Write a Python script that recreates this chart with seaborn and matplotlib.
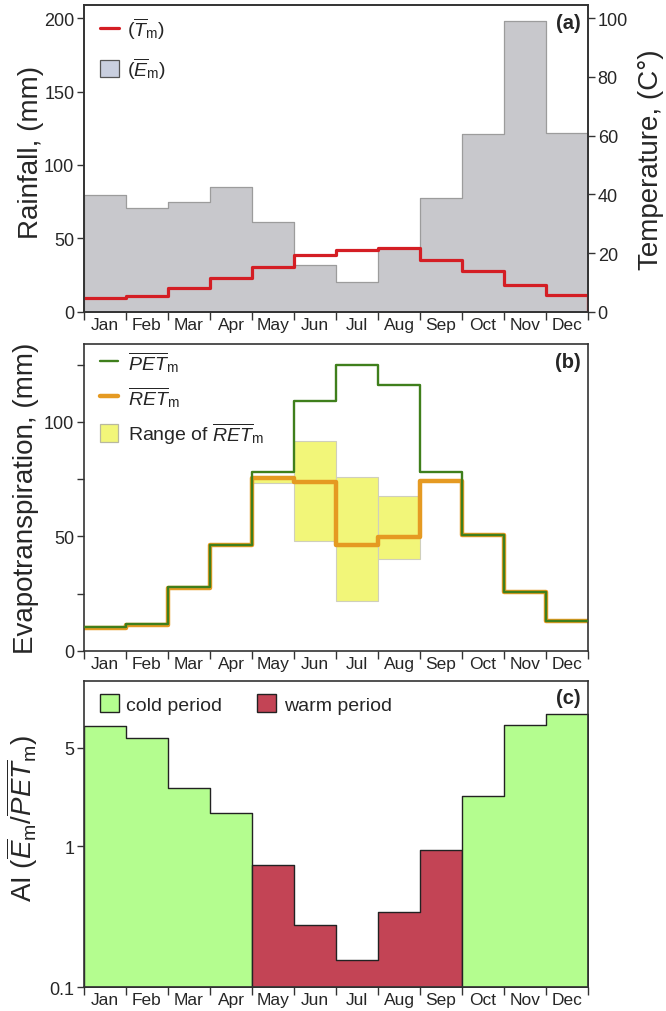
import numpy as np
import pandas as pd
import matplotlib
matplotlib.use("Agg")
import matplotlib.pyplot as plt
import seaborn as sns
from matplotlib.patches import Patch
from matplotlib.lines import Line2D

# ---------------- data ----------------
months = ['Jan', 'Feb', 'Mar', 'Apr', 'May', 'Jun', 'Jul', 'Aug', 'Sep', 'Oct', 'Nov', 'Dec']
rainfall = [79.5, 70.5, 74.5, 84.8, 60.9, 31.5, 20.5, 43.2, 77.3, 121.0, 198.0, 122.0]
temperature = [4.8, 5.2, 8.2, 11.4, 15.3, 19.3, 21.1, 21.6, 17.7, 13.8, 9.2, 5.8]
pet = [10.2, 11.7, 27.7, 46.4, 78.2, 108.9, 124.8, 116.1, 78.0, 50.4, 25.5, 13.1]
ret = [10.0, 11.2, 27.3, 46.3, 75.5, 73.6, 46.2, 49.7, 74.2, 50.4, 25.5, 13.1]
ret_low = [10.0, 11.2, 27.3, 46.3, 73.3, 48.1, 21.9, 40.1, 74.2, 50.4, 25.5, 13.1]
ret_high = [10.0, 11.2, 27.3, 46.3, 76.2, 91.5, 75.7, 67.8, 74.2, 50.4, 25.5, 13.1]
aridity = [7.17, 5.83, 2.58, 1.72, 0.741, 0.277, 0.157, 0.344, 0.942, 2.28, 7.26, 8.68]
period = ['cold'] * 4 + ['warm'] * 5 + ['cold'] * 3

# ---------------- style ----------------
sns.set_theme(style="ticks")
plt.rcParams['font.family'] = ['Liberation Sans', 'DejaVu Sans']
plt.rcParams['mathtext.fontset'] = 'custom'
plt.rcParams['mathtext.rm'] = 'Liberation Sans'
plt.rcParams['mathtext.it'] = 'Liberation Sans:italic'
plt.rcParams['mathtext.bf'] = 'Liberation Sans:bold'

SPINE = '#333333'
C_GRAY = '#c8c8cc'
C_RED = '#d41e24'
C_GREEN = '#3f7f1c'
C_ORANGE = '#e59a22'
C_YELLOW = '#f2f679'
C_COLD = '#b4fd8f'
C_WARM = '#c34455'

n = len(months)
edges = np.arange(n + 1)
centers = np.arange(n) + 0.5

fig = plt.figure(figsize=(6.66, 10.12), dpi=100)
W = 0.7568
axa = fig.add_axes([0.1261, 0.6910, W, 0.3031])
axb = fig.add_axes([0.1261, 0.3560, W, 0.3031])
axc = fig.add_axes([0.1261, 0.02342, W, 0.3030])


def style_axis(ax, ylabel, lx=-0.09, ly=0.5):
    for s in ax.spines.values():
        s.set_visible(True)
        s.set_color(SPINE)
        s.set_linewidth(1.2)
    ax.set_xlim(0, n)
    ax.set_xticks(edges)
    ax.set_xticklabels([])
    ax.set_xticks(centers, minor=True)
    ax.set_xticklabels(months, minor=True, fontsize=12.5)
    ax.tick_params(axis='x', which='major', length=6, width=1, color=SPINE, direction='out')
    ax.tick_params(axis='x', which='minor', length=0, pad=3.5)
    ax.tick_params(axis='y', which='major', length=5, width=1, color=SPINE, labelsize=13, pad=2)
    ax.set_xlabel('')
    ax.set_ylabel(ylabel, fontsize=20)
    ax.yaxis.set_label_coords(lx, ly)


# ---------------- panel (a) ----------------
rain_df = pd.DataFrame({'month_pos': centers, 'rain': rainfall})
sns.histplot(data=rain_df, x='month_pos', weights='rain', bins=n, binrange=(0, n),
             element='step', fill=True,
             facecolor=C_GRAY, edgecolor='#9c9c9c', linewidth=0.9, alpha=1, ax=axa)
axa.set_ylim(0, 209)
axa.set_yticks([0, 50, 100, 150, 200])
style_axis(axa, 'Rainfall, (mm)', lx=-0.079, ly=0.521)

axa2 = axa.twinx()
tdf = pd.DataFrame({'x': list(edges) + [n], 'y': temperature + [temperature[-1], 0]})
sns.lineplot(data=tdf, x='x', y='y', drawstyle='steps-post', estimator=None, sort=False,
             color=C_RED, linewidth=2.3, ax=axa2)
axa2.set_ylim(0, 104.5)
axa2.set_yticks([0, 20, 40, 60, 80, 100])
axa2.tick_params(axis='y', length=5, width=1, color=SPINE, labelsize=13, pad=2)
axa2.set_ylabel('Temperature, (C°)', fontsize=20, rotation=90)
axa2.yaxis.set_label_coords(1.1, 0.5)
axa2.set_xlabel('')
for s in axa2.spines.values():
    s.set_color(SPINE)
    s.set_linewidth(1.2)
axa2.set_xlim(0, n)

ha = [Line2D([], [], color=C_RED, lw=2.3),
      Patch(facecolor='#c9cfdf', edgecolor='#555555', linewidth=0.9)]
axa2.legend(ha, [r'($\overline{T}_\mathrm{m}$)', r'($\overline{E}_\mathrm{m}$)'],
            loc='upper left', bbox_to_anchor=(0.01, 1.0), frameon=False, fontsize=14,
            handlelength=1.0, handleheight=1.0, handletextpad=0.42, labelspacing=0.7,
            borderaxespad=0.15)
axa2.text(0.985, 0.975, '(a)', transform=axa2.transAxes, ha='right', va='top',
          fontsize=14.5, fontweight='bold')

# ---------------- panel (b) ----------------
lo = np.array(ret_low)
hi = np.array(ret_high)
axb.bar(edges[:-1], hi - lo, bottom=lo, width=1, align='edge', color=C_YELLOW,
        edgecolor='#cfcfbc', linewidth=0.8, zorder=1)
rdf = pd.DataFrame({'x': edges, 'y': ret + [ret[-1]]})
pdf = pd.DataFrame({'x': edges, 'y': pet + [pet[-1]]})
sns.lineplot(data=rdf, x='x', y='y', drawstyle='steps-post', estimator=None, sort=False,
             color=C_ORANGE, linewidth=3.2, ax=axb, zorder=2)
sns.lineplot(data=pdf, x='x', y='y', drawstyle='steps-post', estimator=None, sort=False,
             color=C_GREEN, linewidth=1.7, ax=axb, zorder=3)
axb.set_ylim(0, 134)
axb.set_yticks([0, 25, 50, 75, 100, 125])
axb.set_yticklabels(['0', '', '50', '', '100', ''])
style_axis(axb, 'Evapotranspiration, (mm)', lx=-0.09)
hb = [Line2D([], [], color=C_GREEN, lw=1.7),
      Line2D([], [], color=C_ORANGE, lw=3.2),
      Patch(facecolor=C_YELLOW, edgecolor='#b8b8a0', linewidth=0.9)]
axb.legend(hb, [r'$\overline{PET}_\mathrm{m}$', r'$\overline{RET}_\mathrm{m}$',
                r'Range of $\overline{RET}_\mathrm{m}$'],
           loc='upper left', bbox_to_anchor=(0.022, 1.0), frameon=False, fontsize=14,
           handlelength=0.95, handleheight=1.0, handletextpad=0.5, labelspacing=0.55,
           borderaxespad=0.0, borderpad=0.25)
axb.text(0.985, 0.975, '(b)', transform=axb.transAxes, ha='right', va='top',
         fontsize=14.5, fontweight='bold')

# ---------------- panel (c) ----------------
axc.set_yscale('log')
ymin_c = 0.1
vals = np.array(aridity)
start = 0
for i in range(1, n + 1):
    if i == n or period[i] != period[start]:
        seg_x = edges[start:i + 1]
        seg_y = list(vals[start:i]) + [vals[i - 1]]
        col = C_COLD if period[start] == 'cold' else C_WARM
        axc.fill_between(seg_x, seg_y, ymin_c, step='post', facecolor=col,
                         edgecolor='#222222', linewidth=1.0, zorder=2)
        start = i
axc.set_ylim(ymin_c, 15)
axc.set_yticks([0.1, 1, 5])
axc.set_yticklabels(['0.1', '1', '5'])
axc.yaxis.set_minor_locator(matplotlib.ticker.NullLocator())
style_axis(axc, r'AI ($\overline{E}_\mathrm{m}/\overline{PET}_\mathrm{m}$)', lx=-0.088, ly=0.555)
hc = [Patch(facecolor=C_COLD, edgecolor='#222222', linewidth=1.0),
      Patch(facecolor=C_WARM, edgecolor='#222222', linewidth=1.0)]
axc.legend(hc, ['cold period', 'warm period'], loc='upper left', bbox_to_anchor=(0.005, 1.0),
           ncol=2, frameon=False, fontsize=14, handlelength=0.95, handleheight=1.0,
           handletextpad=0.4, columnspacing=1.8, borderaxespad=0.3)
axc.text(0.985, 0.975, '(c)', transform=axc.transAxes, ha='right', va='top',
         fontsize=14.5, fontweight='bold')

fig.savefig('out.png', dpi=100)
